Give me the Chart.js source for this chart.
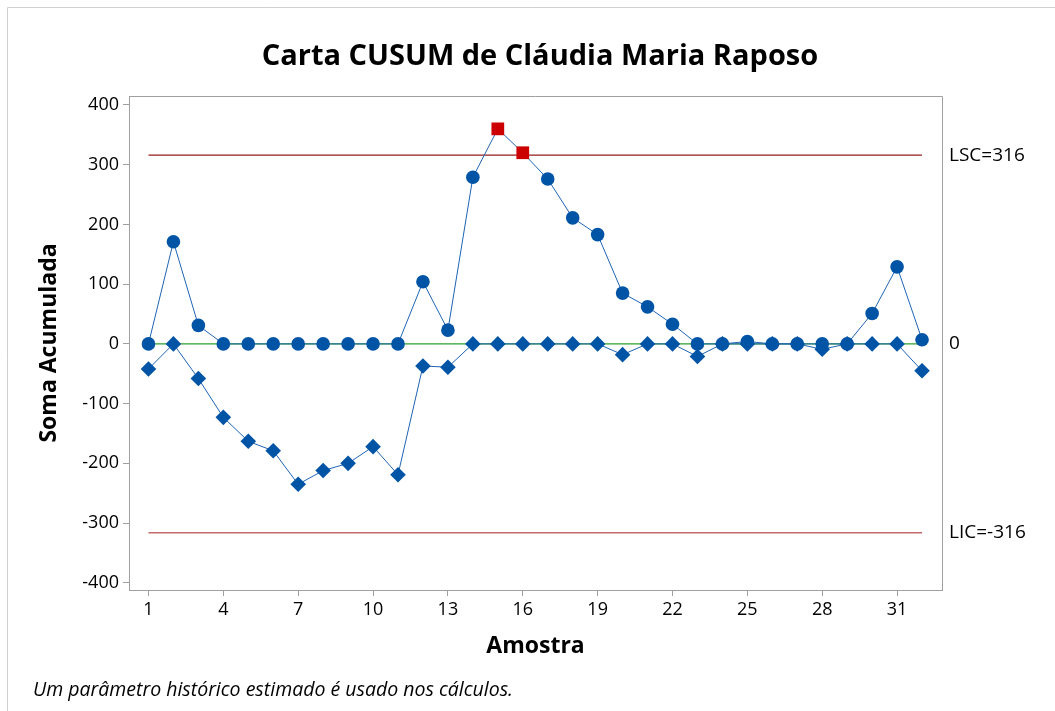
<!DOCTYPE html>
<html>
<head>
<meta charset="utf-8">
<script src="https://cdn.jsdelivr.net/npm/chart.js@4.4.1/dist/chart.umd.min.js"></script>
<style>
    html, body { margin: 0; padding: 0; background: #fff; }
</style>
</head>
<body>
<canvas id="cusumChart" width="1055" height="711"></canvas>
<script>
const amostras = [1, 2, 3, 4, 5, 6, 7, 8, 9, 10, 11, 12, 13, 14, 15, 16,
                  17, 18, 19, 20, 21, 22, 23, 24, 25, 26, 27, 28, 29, 30, 31, 32];
const cusumSuperior = [0, 171, 31, 0, 0, 0, 0, 0, 0, 0, 0, 104, 23, 279, 360, 320,
                       276, 211, 183, 85, 62, 33, 0, 0, 4, 0, 0, 0, 0, 51, 129, 7];
const cusumInferior = [-42, 0, -58, -123, -163, -179, -235, -212, -200, -172, -219, -37, -39, 0, 0, 0,
                       0, 0, 0, -18, 0, 0, -21, 0, 0, 0, 0, -9, 0, 0, 0, -45];
const limiteSuperior = 316;
const limiteInferior = -316;
const linhaCentral = 0;
const ticksX = [1, 4, 7, 10, 13, 16, 19, 22, 25, 28, 31];
const ticksY = [-400, -300, -200, -100, 0, 100, 200, 300, 400];

const fonte = "'Open Sans', 'Noto Sans', sans-serif";
const azul = '#0054A6';
const vermelho = '#CC0000';

const primeira = amostras[0];
const ultima = amostras[amostras.length - 1];

const extras = {
    id: 'extras',
    afterDraw(chart) {
        const ctx = chart.ctx;
        const area = chart.chartArea;
        const y = chart.scales.y;
        ctx.save();
        // moldura externa (so topo e esquerda)
        ctx.strokeStyle = '#d0d0d0';
        ctx.lineWidth = 1;
        ctx.beginPath();
        ctx.moveTo(7.5, 711);
        ctx.lineTo(7.5, 7.5);
        ctx.lineTo(1055, 7.5);
        ctx.stroke();
        // lados de cima e da direita da area do grafico
        ctx.strokeStyle = '#a0a0a0';
        ctx.beginPath();
        ctx.moveTo(area.left, Math.round(area.top) + 0.5);
        ctx.lineTo(Math.round(area.right) + 0.5, Math.round(area.top) + 0.5);
        ctx.lineTo(Math.round(area.right) + 0.5, area.bottom);
        ctx.stroke();
        // titulo
        ctx.fillStyle = '#000';
        ctx.textAlign = 'center';
        ctx.textBaseline = 'middle';
        ctx.font = 'bold 29px ' + fonte;
        ctx.fillText('Carta CUSUM de Cláudia Maria Raposo', 540, 57);
        // rotulos dos limites
        ctx.font = '19px ' + fonte;
        ctx.textAlign = 'left';
        ctx.fillText('LSC=' + limiteSuperior, area.right + 7, y.getPixelForValue(limiteSuperior));
        ctx.fillText(String(linhaCentral), area.right + 7, y.getPixelForValue(linhaCentral));
        ctx.fillText('LIC=' + limiteInferior, area.right + 7, y.getPixelForValue(limiteInferior));
        // nota de rodape
        ctx.font = 'italic 19.5px ' + fonte;
        ctx.fillText('Um parâmetro histórico estimado é usado nos cálculos.', 33, 690);
        ctx.restore();
    }
};

const ctx = document.getElementById('cusumChart').getContext('2d');
new Chart(ctx, {
    type: 'line',
    data: {
        datasets: [
            {
                label: 'Ci+',
                data: amostras.map((a, i) => ({ x: a, y: cusumSuperior[i] })),
                borderColor: '#1E64B4',
                borderWidth: 1,
                pointStyle: c => c.raw.y > limiteSuperior ? 'rect' : 'circle',
                pointRadius: c => c.raw.y > limiteSuperior ? 9 : 6.8,
                pointBackgroundColor: c => c.raw.y > limiteSuperior ? vermelho : azul,
                pointBorderWidth: 0,
                order: 1
            },
            {
                label: 'Ci-',
                data: amostras.map((a, i) => ({ x: a, y: cusumInferior[i] })),
                borderColor: '#1E64B4',
                borderWidth: 1,
                pointStyle: 'rectRot',
                pointRadius: 7.8,
                pointBackgroundColor: azul,
                pointBorderWidth: 0,
                order: 2
            },
            {
                label: 'Centro',
                data: [{ x: primeira, y: linhaCentral }, { x: ultima, y: linhaCentral }],
                borderColor: '#2CA02C',
                borderWidth: 1.2,
                pointRadius: 0,
                order: 3
            },
            {
                label: 'LSC',
                data: [{ x: primeira, y: limiteSuperior }, { x: ultima, y: limiteSuperior }],
                borderColor: '#931D1D',
                borderWidth: 1.2,
                pointRadius: 0,
                order: 4
            },
            {
                label: 'LIC',
                data: [{ x: primeira, y: limiteInferior }, { x: ultima, y: limiteInferior }],
                borderColor: '#C46A6A',
                borderWidth: 1.5,
                pointRadius: 0,
                order: 5
            }
        ]
    },
    options: {
        responsive: false,
        animation: false,
        devicePixelRatio: 1,
        events: [],
        layout: { padding: { left: 0, right: 113, top: 96, bottom: 0 } },
        plugins: {
            legend: { display: false },
            tooltip: { enabled: false },
            title: { display: false }
        },
        scales: {
            x: {
                type: 'linear',
                min: 0.22,
                max: 32.8,
                afterBuildTicks: scale => { scale.ticks = ticksX.map(v => ({ value: v })); },
                afterFit: scale => { scale.height = 121; },
                grid: { drawOnChartArea: false, drawTicks: true, tickLength: 6, color: '#a0a0a0' },
                border: { color: '#a0a0a0' },
                ticks: { autoSkip: false, maxRotation: 0, color: '#000', padding: 3, font: { family: fonte, size: 18 } },
                title: {
                    display: true,
                    text: 'Amostra',
                    color: '#000',
                    font: { family: fonte, size: 23, weight: 'bold' },
                    padding: { top: 0, bottom: 51 }
                }
            },
            y: {
                min: -412,
                max: 415,
                afterBuildTicks: scale => { scale.ticks = ticksY.map(v => ({ value: v })); },
                afterFit: scale => { scale.width = 129; },
                grid: { drawOnChartArea: false, drawTicks: true, tickLength: 6, color: '#a0a0a0' },
                border: { color: '#a0a0a0' },
                ticks: { color: '#000', padding: 4, font: { family: fonte, size: 18 } },
                title: {
                    display: true,
                    text: 'Soma Acumulada',
                    color: '#000',
                    font: { family: fonte, size: 23, weight: 'bold' },
                    padding: { top: 36, bottom: 0 }
                }
            }
        }
    },
    plugins: [extras]
});
</script>
</body>
</html>
